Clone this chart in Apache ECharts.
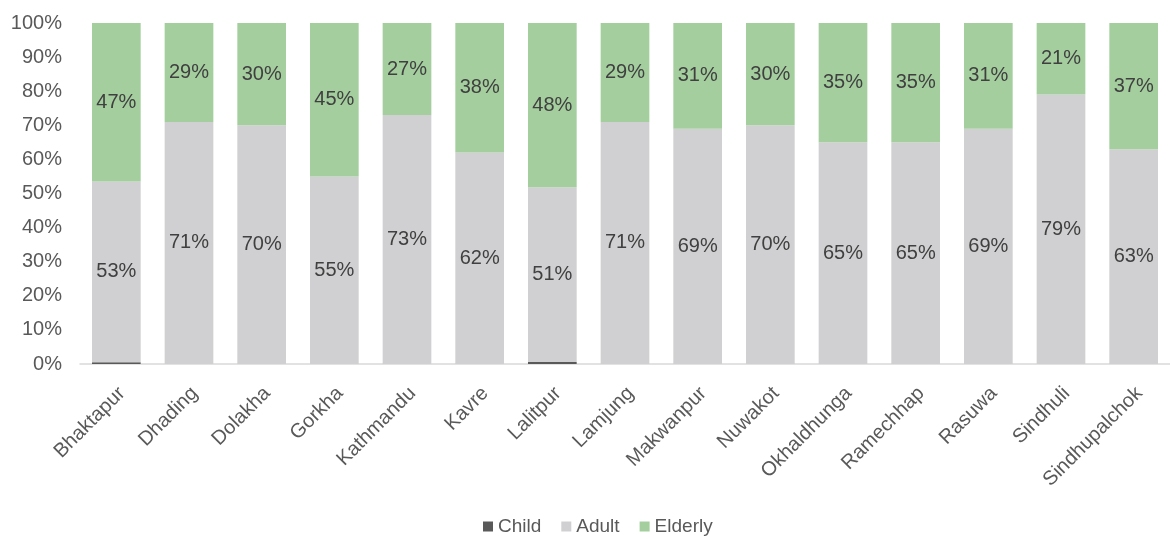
<!DOCTYPE html>
<html>
<head>
<meta charset="utf-8">
<script src="https://cdn.jsdelivr.net/npm/echarts@6/dist/echarts.min.js"></script>
<style>html,body{margin:0;padding:0;background:#fff;}#c{width:1170px;height:539px;}</style>
</head>
<body>
<div id="c"></div>
<script>
const categories = ['Bhaktapur','Dhading','Dolakha','Gorkha','Kathmandu','Kavre','Lalitpur','Lamjung','Makwanpur','Nuwakot','Okhaldhunga','Ramechhap','Rasuwa','Sindhuli','Sindhupalchok'];
const child   = [0.5, 0, 0, 0, 0, 0, 0.6, 0, 0, 0, 0, 0, 0, 0, 0];
const adult   = [53, 71, 70, 55, 73, 62, 51.2, 71, 69, 70, 65, 65, 69, 79, 63];
const elderly = [46.5, 29, 30, 45, 27, 38, 48.2, 29, 31, 30, 35, 35, 31, 21, 37];
const yTicks = [0,10,20,30,40,50,60,70,80,90,100];

const FONT = 'Liberation Sans, Arial, sans-serif';
const chart = echarts.init(document.getElementById('c'), null, {renderer:'canvas'});
const labelCfg = {
  show: true, position: 'inside', color: '#404040', fontSize: 20, fontFamily: FONT,
  formatter: p => Math.round(p.value) + '%'
};
chart.setOption({
  animation: false,
  textStyle: {fontFamily: FONT},
  grid: {left: 80, right: -7, top: 23, bottom: 175, containLabel: false},
  legend: {
    left: 478, top: 512, itemWidth: 10, itemHeight: 10, itemGap: 20,
    icon: 'rect',
    textStyle: {color: '#595959', fontSize: 19, fontFamily: FONT},
    data: ['Child','Adult','Elderly']
  },
  xAxis: {
    type: 'category', data: categories,
    axisTick: {show: false},
    axisLine: {lineStyle: {color: '#d9d9d9', width: 1.5}},
    axisLabel: {interval: 0, rotate: 45, color: '#595959', fontSize: 20, fontFamily: FONT, margin: 32, padding: [0, -8, 0, 0]}
  },
  yAxis: {
    type: 'value', min: yTicks[0], max: yTicks[yTicks.length-1], interval: 10,
    splitLine: {show: false},
    axisLine: {show: false}, axisTick: {show: false},
    axisLabel: {formatter: '{value}%', color: '#595959', fontSize: 20, fontFamily: FONT, margin: 18}
  },
  series: [
    {name: 'Child', type: 'bar', stack: 'a', data: child, barCategoryGap: '33%', itemStyle: {color: '#595959'}},
    {name: 'Adult', type: 'bar', stack: 'a', data: adult, itemStyle: {color: '#d0d0d2'}, label: labelCfg},
    {name: 'Elderly', type: 'bar', stack: 'a', data: elderly, itemStyle: {color: '#a4ce9e'}, label: labelCfg}
  ]
});
</script>
</body>
</html>
